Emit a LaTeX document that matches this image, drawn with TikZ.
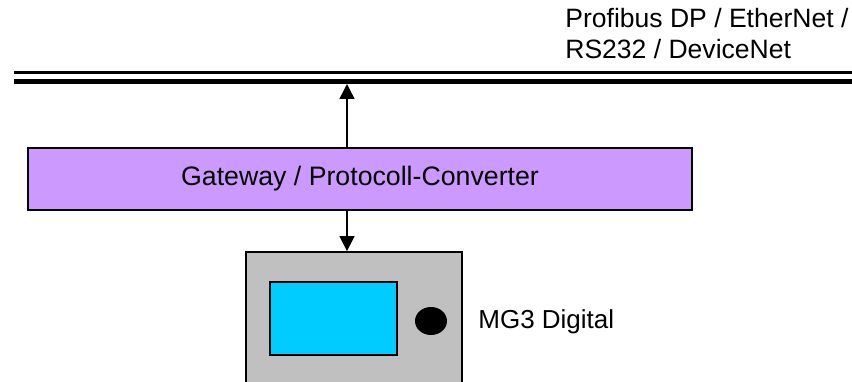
\documentclass[tikz,border=0pt]{standalone}
\usepackage{fontspec}
\setmainfont{Liberation Sans}
\usetikzlibrary{arrows.meta}

\begin{document}
\begin{tikzpicture}[
		font=\fontsize{14.8}{17.6}\selectfont,
		>={Triangle[length=0.3cm,width=0.3cm]},
		link/.style={line width=0.8pt,->},
		unit/.style={draw,line width=1pt,rectangle,inner sep=0pt}
	]
		\useasboundingbox (0,0) rectangle (17.04,7.62);
		\clip (0,0) rectangle (17.04,7.62);

		\draw[line width=1.9pt] (0.28,6.174) -- (17.04,6.174);
		\draw[line width=3pt] (0.28,5.994) -- (17.04,5.994);
		\coordinate (tap) at (6.94,5.94);
		\node[anchor=north west,inner sep=0pt,align=left,font=\fontsize{15.1}{17.6}\selectfont] (bus) at (11.3,7.466) {Profibus DP / EtherNet /\\RS232 / DeviceNet};

		\node[unit,fill={rgb,255:red,204;green,153;blue,255},minimum width=13.28cm,minimum height=1.24cm,font=\fontsize{15.2}{17.6}\selectfont] (gw) at (7.2,4.04) {Gateway / Protocoll-Converter};

		\node[unit,fill={rgb,255:red,192;green,192;blue,192},minimum width=4.332cm,minimum height=3.08cm] (mg) at (7.08,1.04) {};
		\node[unit,fill={rgb,255:red,0;green,204;blue,255},minimum width=2.54cm,minimum height=1.46cm] (scr) at (6.67,1.25) {};
		\fill (8.62,1.2) ellipse (0.32 and 0.28) coordinate (knob);
		\node[anchor=west,inner sep=0pt] (lbl) at (9.56,1.19) {MG3 Digital};

		\draw[link] (gw.north -| tap) -- (tap);
		\draw[link] (gw.south -| tap) -- (mg.north -| tap);
	\end{tikzpicture}
\end{document}
